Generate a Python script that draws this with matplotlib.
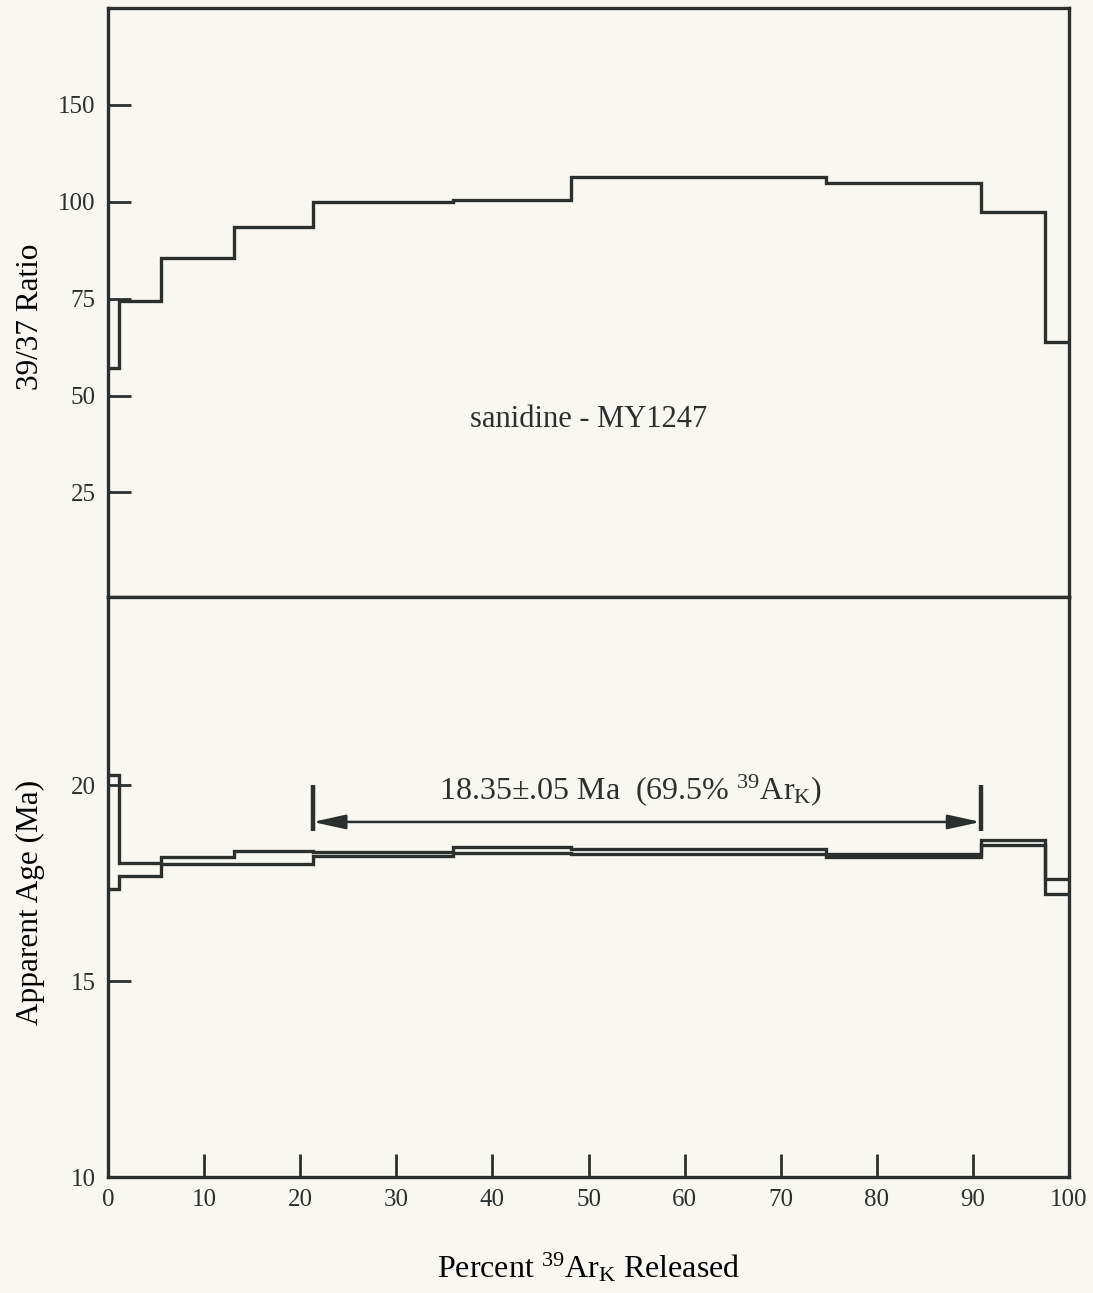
import matplotlib
matplotlib.use("Agg")
import matplotlib.pyplot as plt
from matplotlib.ticker import FixedLocator, FixedFormatter

# Step boundaries, cumulative percent 39ArK released
edges = [0.0, 1.1, 5.5, 13.1, 21.3, 35.9, 48.2, 74.7, 90.8, 97.5, 100.0]

# 39/37 ratio for each step
ratio = [57.2, 74.5, 85.4, 93.6, 100.0, 100.5, 106.3, 104.9, 97.4, 63.7]

# Apparent age envelope (Ma) for each step
age_upper = [20.27, 18.00, 18.17, 18.32, 18.29, 18.41, 18.36, 18.24, 18.60, 17.60]
age_lower = [17.36, 17.68, 17.98, 17.98, 18.18, 18.28, 18.23, 18.16, 18.47, 17.22]

# Plateau segment (step indices of its ends) and its stated result
plateau_first, plateau_last = 4, 8
plateau_text = "18.35±.05 Ma  (69.5% $^{39}$Ar$_{\\rm K}$)"
sample_text = "sanidine - MY1247"

# Axis ticks
ratio_tick_pos = [25, 50, 75, 100, 125]
ratio_tick_lbl = ["25", "50", "75", "100", "150"]
age_ticks = [10, 15, 20]
x_ticks = [0, 10, 20, 30, 40, 50, 60, 70, 80, 90, 100]

INK = "#2b302f"
PAPER = "#f8f7f2"

plt.rcParams["font.family"] = ["Liberation Serif", "DejaVu Serif"]
plt.rcParams["mathtext.fontset"] = "custom"
plt.rcParams["mathtext.rm"] = "Liberation Serif"
plt.rcParams["mathtext.it"] = "Liberation Serif:italic"
plt.rcParams["text.color"] = INK

fig = plt.figure(figsize=(10.93, 12.93), dpi=100, facecolor=PAPER)
W, H = 1093, 1293
left, right = 108 / W, 1069 / W
ytop, ymid, ybot = 1 - 8 / H, 1 - 597 / H, 1 - 1177 / H
ax1 = fig.add_axes([left, ymid, right - left, ytop - ymid])
ax2 = fig.add_axes([left, ybot, right - left, ymid - ybot], sharex=ax1)

LW = 2.4
for ax in (ax1, ax2):
    ax.set_facecolor(PAPER)
    for s in ax.spines.values():
        s.set_linewidth(LW)
        s.set_color(INK)
    ax.tick_params(axis="both", direction="in", length=16.5, width=2.0,
                   colors=INK, labelsize=18, pad=9)
    ax.tick_params(axis="y", right=False)
    ax.tick_params(axis="x", top=False)

# Upper panel: 39/37 ratio spectrum
ax1.stairs(ratio, edges, baseline=None, color=INK, lw=LW)
ax1.set_xlim(0, 100)
ax1.set_ylim(-2, 150)
ax1.yaxis.set_major_locator(FixedLocator(ratio_tick_pos))
ax1.yaxis.set_major_formatter(FixedFormatter(ratio_tick_lbl))
ax1.tick_params(axis="x", bottom=False, labelbottom=False)
ax1.text(50, 43.7, sample_text, ha="center", va="center", fontsize=22)
ax1.set_ylabel("39/37 Ratio", fontsize=22.5)
ax1.yaxis.set_label_coords(-0.066, 0.475)

# Lower panel: apparent age spectrum
ax2.stairs(age_upper, edges, baseline=None, color=INK, lw=LW)
ax2.stairs(age_lower, edges, baseline=None, color=INK, lw=LW)
ax2.set_ylim(10, 24.8)
ax2.yaxis.set_major_locator(FixedLocator(age_ticks))
ax2.xaxis.set_major_locator(FixedLocator(x_ticks))
ax2.set_ylabel("Apparent Age (Ma)", fontsize=22.5)
ax2.yaxis.set_label_coords(-0.066, 0.474)
ax2.set_xlabel("Percent $^{39}$Ar$_{\\rm K}$ Released", fontsize=23, labelpad=28)

# Plateau bracket and arrow
x0, x1 = edges[plateau_first], edges[plateau_last]
ax2.vlines([x0, x1], 18.83, 20.0, color=INK, lw=3.2)
ax2.annotate("", xy=(x0, 19.06), xytext=(x1, 19.06),
             arrowprops=dict(arrowstyle="<|-|>,head_length=1.0,head_width=0.22",
                             mutation_scale=20, color=INK, lw=1.8,
                             shrinkA=0, shrinkB=0))
ax2.text((x0 + x1) / 2 - 1.7, 19.87, plateau_text, ha="center", va="center",
         fontsize=23)

fig.savefig("out.png", dpi=100, facecolor=PAPER)
